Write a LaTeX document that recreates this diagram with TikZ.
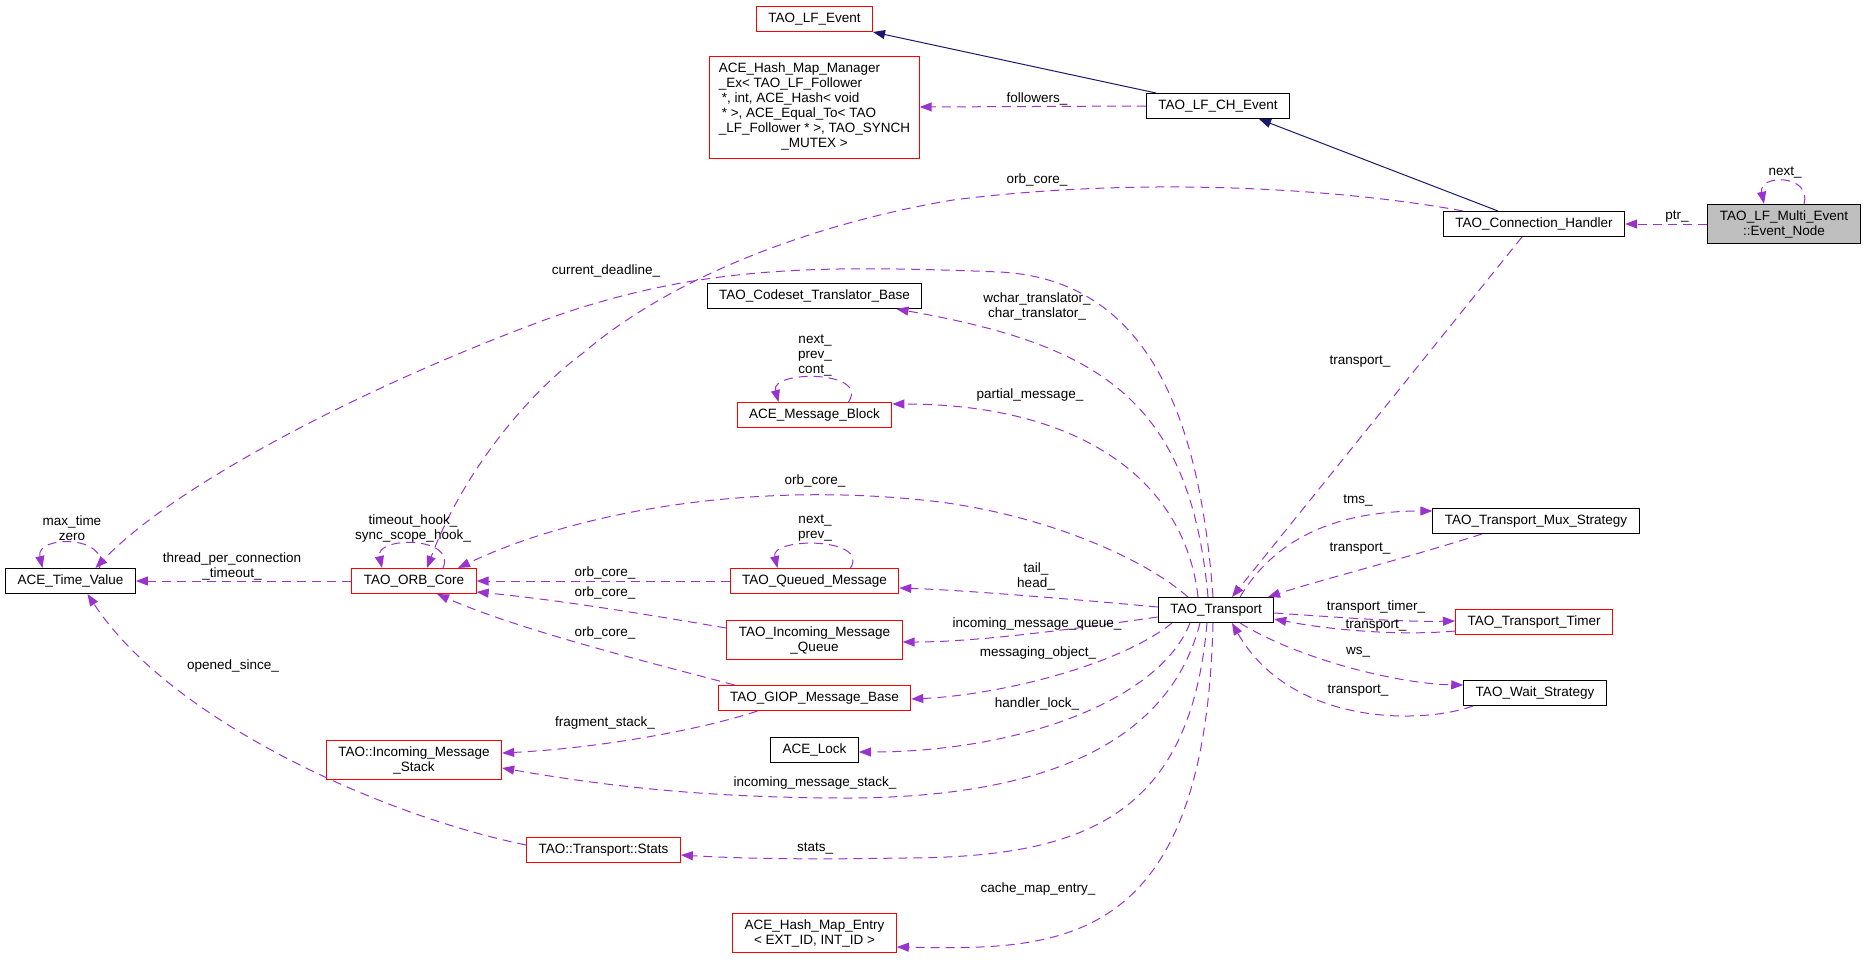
\documentclass[tikz,border=0pt]{standalone}
\usepackage{fontspec}
\setmainfont{Liberation Sans}
\usepackage{tikz}
\usetikzlibrary{shapes,arrows.meta}
\definecolor{edgepurple}{HTML}{9A32CD}
\definecolor{inhblue}{HTML}{191970}
\newcommand{\dotfont}{\fontsize{13.5}{15}\selectfont}
\tikzstyle{cls} = [draw=black, rectangle, line width=1pt, inner xsep=12pt, inner ysep=6pt, minimum height=25pt, align=center, font=\dotfont]
\tikzstyle{trunc} = [cls, draw=red]
\tikzstyle{self} = [cls, fill=black!25]
\tikzstyle{lbl} = [inner sep=0pt, align=center, font=\dotfont]
\tikzstyle{uses} = [->, draw=edgepurple, line width=1pt, dash pattern=on 9pt off 6pt]
\tikzstyle{inherit} = [->, draw=inhblue, line width=1pt]

\begin{document}
\begin{tikzpicture}[x=1pt, y=-1pt, >={Triangle[length=12pt,width=9pt]}]
	\useasboundingbox (0,0) rectangle (1863,959);
	% classes
	\node[trunc] (lfEvent) at (814.5,19) {TAO\_LF\_Event};
	\node[trunc, inner xsep=9pt] (hashManager) at (814.5,107) {\begin{tabular}{@{}l@{}}ACE\_Hash\_Map\_Manager\\\_Ex< TAO\_LF\_Follower\\\hspace{3pt}*, int, ACE\_Hash< void\\\hspace{3pt}* >, ACE\_Equal\_To< TAO\\\_LF\_Follower * >, TAO\_SYNCH\\\multicolumn{1}{@{}c@{}}{\_MUTEX >}\end{tabular}};
	\node[cls] (lfChEvent) at (1218,106) {TAO\_LF\_CH\_Event};
	\node[cls] (connHandler) at (1534,224) {TAO\_Connection\_Handler};
	\node[self] (eventNode) at (1784,224) {TAO\_LF\_Multi\_Event\\::Event\_Node};
	\node[cls] (codeset) at (814.5,296) {TAO\_Codeset\_Translator\_Base};
	\node[trunc] (msgBlock) at (814.5,415) {ACE\_Message\_Block};
	\node[cls] (timeValue) at (70.5,581) {ACE\_Time\_Value};
	\node[trunc] (orbCore) at (414,581) {TAO\_ORB\_Core};
	\node[trunc] (queuedMsg) at (814.5,581) {TAO\_Queued\_Message};
	\node[trunc] (msgQueue) at (814.5,640) {TAO\_Incoming\_Message\\\_Queue};
	\node[trunc] (giopBase) at (814.5,698) {TAO\_GIOP\_Message\_Base};
	\node[cls] (aceLock) at (814.5,750) {ACE\_Lock};
	\node[trunc] (msgStack) at (414,760) {TAO::Incoming\_Message\\\_Stack};
	\node[trunc] (stats) at (603.5,850) {TAO::Transport::Stats};
	\node[trunc] (hashEntry) at (814.5,933) {ACE\_Hash\_Map\_Entry\\< EXT\_ID, INT\_ID >};
	\node[cls] (transport) at (1216,610) {TAO\_Transport};
	\node[cls] (muxStrategy) at (1536,521) {TAO\_Transport\_Mux\_Strategy};
	\node[trunc] (transportTimer) at (1534,622) {TAO\_Transport\_Timer};
	\node[cls] (waitStrategy) at (1535,693) {TAO\_Wait\_Strategy};

	% inheritance
	\path[inherit] ([xshift=-62pt]lfChEvent.north) -- (lfEvent.south east);
	\path[inherit] ([xshift=-36pt]connHandler.north) -- ([xshift=41pt]lfChEvent.south);

	% members, top part
	\path[uses] (lfChEvent.west) -- (hashManager.east);
	\path[uses] (eventNode.west) -- (connHandler.east);
	\path[uses] ([xshift=20pt]eventNode.north) .. controls (1812,174) and (1758,174) .. ([xshift=-20pt]eventNode.north);
	\path[uses] ([xshift=-71pt]connHandler.north) .. controls (1350,190) and (1150,175) .. (953,200) .. controls (850,217) and (690,262) .. (583,353) .. controls (520,400) and (460,480) .. ([xshift=13pt]orbCore.north);
	\path[uses] ([xshift=-12pt]connHandler.south) -- ([xshift=16pt]transport.north);

	% members of TAO_Transport
	\path[uses] ([xshift=24pt]transport.north) .. controls (1280,530) and (1350,511) .. ([yshift=10pt]muxStrategy.west);
	\path[uses] ([xshift=-54pt]muxStrategy.south) .. controls (1400,560) and (1320,580) .. ([xshift=52pt]transport.north);
	\path[uses] ([yshift=-3pt]transport.east) .. controls (1350,618) and (1400,622) .. ([yshift=1pt]transportTimer.west);
	\path[uses] ([yshift=-9pt]transportTimer.west) .. controls (1400,636) and (1330,630) .. ([yshift=-9pt]transport.east);
	\path[uses] ([xshift=24pt]transport.south) .. controls (1300,660) and (1400,684) .. ([yshift=8pt]waitStrategy.west);
	\path[uses] ([xshift=-62pt]waitStrategy.south) .. controls (1420,725) and (1290,725) .. ([xshift=16pt]transport.south);
	\path[uses] ([xshift=-3pt]transport.north) .. controls (1200,420) and (1150,280) .. (1000,272) .. controls (820,265) and (700,265) .. (550,318) .. controls (380,380) and (180,480) .. ([xshift=25pt]timeValue.north);
	\path[uses] ([xshift=-8pt]transport.north) .. controls (1190,400) and (1100,345) .. ([xshift=82pt]codeset.south);
	\path[uses] ([xshift=-18pt]transport.north) .. controls (1185,480) and (1080,404) .. ([yshift=11pt]msgBlock.east);
	\path[uses] ([xshift=-28pt]transport.north) .. controls (1140,555) and (1040,515) .. (940,502) .. controls (760,480) and (580,510) .. ([xshift=44pt]orbCore.north);
	\path[uses] ([yshift=3pt]transport.west) .. controls (1060,598) and (960,590) .. ([yshift=-7pt]queuedMsg.east);
	\path[uses] ([yshift=-7pt]transport.west) .. controls (1080,628) and (980,642) .. ([yshift=-2pt]msgQueue.east);
	\path[uses] ([xshift=-44pt]transport.south) .. controls (1120,665) and (1000,695) .. ([yshift=-1pt]giopBase.east);
	\path[uses] ([xshift=-26pt]transport.south) .. controls (1160,700) and (1020,752) .. ([yshift=-2pt]aceLock.east);
	\path[uses] ([xshift=-16pt]transport.south) .. controls (1170,740) and (1050,797) .. (850,798) .. controls (700,798) and (600,785) .. ([yshift=-8pt]msgStack.east);
	\path[uses] ([xshift=-9pt]transport.south) .. controls (1190,820) and (1080,858) .. (900,858) .. controls (800,860) and (730,858) .. ([yshift=-5pt]stats.east);
	\path[uses] ([xshift=-3pt]transport.south) .. controls (1205,950) and (1060,950) .. ([yshift=-14pt]hashEntry.east);

	% members, left part
	\path[uses] (queuedMsg.west) -- (orbCore.east);
	\path[uses] ([yshift=12pt]msgQueue.west) .. controls (650,615) and (560,600) .. ([yshift=-11pt]orbCore.east);
	\path[uses] ([xshift=-80pt]giopBase.north) .. controls (640,660) and (520,630) .. ([xshift=23pt]orbCore.south);
	\path[uses] ([xshift=-57pt]giopBase.south) .. controls (700,730) and (600,748) .. ([yshift=7pt]msgStack.east);
	\path[uses] (orbCore.west) -- (timeValue.east);
	\path[uses] ([yshift=5pt]stats.west) .. controls (380,815) and (170,720) .. ([xshift=17pt]timeValue.south);

	% self loops
	\path[uses] ([xshift=29pt]timeValue.north) .. controls (110,535) and (35,535) .. ([xshift=-28pt]timeValue.north);
	\path[uses] ([xshift=29pt]orbCore.north) .. controls (457,536) and (375,536) .. ([xshift=-32pt]orbCore.north);
	\path[uses] ([xshift=34pt]msgBlock.north) .. controls (870,370) and (770,370) .. ([xshift=-36pt]msgBlock.north);
	\path[uses] ([xshift=36pt]queuedMsg.north) .. controls (870,537) and (770,537) .. ([xshift=-37pt]queuedMsg.north);

	% edge labels
	\node[lbl] (lblFollowers) at (1037,99) {followers\_};
	\node[lbl] (lblNext) at (1785,172) {next\_};
	\node[lbl] (lblPtr) at (1677,217) {ptr\_};
	\node[lbl] (lblChOrb) at (1037,180) {orb\_core\_};
	\node[lbl] (lblChTransport) at (1360,362) {transport\_};
	\node[lbl] (lblDeadline) at (606,271) {current\_deadline\_};
	\node[lbl] (lblTranslator) at (1037,306) {wchar\_translator\_\\char\_translator\_};
	\node[lbl] (lblBlockLoop) at (815,355) {next\_\\prev\_\\cont\_};
	\node[lbl] (lblPartial) at (1030,395) {partial\_message\_};
	\node[lbl] (lblTransOrb) at (815,481) {orb\_core\_};
	\node[lbl] (lblQueuedLoop) at (815,528) {next\_\\prev\_};
	\node[lbl] (lblHooks) at (413,528) {timeout\_hook\_\\sync\_scope\_hook\_};
	\node[lbl] (lblTimeLoop) at (72,528) {max\_time\\zero};
	\node[lbl] (lblThread) at (232,566) {thread\_per\_connection\\\_timeout\_};
	\node[lbl] (lblOrbA) at (605,573) {orb\_core\_};
	\node[lbl] (lblOrbB) at (605,593) {orb\_core\_};
	\node[lbl] (lblOrbC) at (605,633) {orb\_core\_};
	\node[lbl] (lblTailHead) at (1036,576) {tail\_\\head\_};
	\node[lbl] (lblQueue) at (1037,624) {incoming\_message\_queue\_};
	\node[lbl] (lblMessaging) at (1038,653) {messaging\_object\_};
	\node[lbl] (lblLock) at (1037,704) {handler\_lock\_};
	\node[lbl] (lblFragment) at (605,723) {fragment\_stack\_};
	\node[lbl] (lblStack) at (815,783) {incoming\_message\_stack\_};
	\node[lbl] (lblStats) at (815,848) {stats\_};
	\node[lbl] (lblCache) at (1038,889) {cache\_map\_entry\_};
	\node[lbl] (lblOpened) at (233,666) {opened\_since\_};
	\node[lbl] (lblTms) at (1358,500) {tms\_};
	\node[lbl] (lblMuxTransport) at (1360,549) {transport\_};
	\node[lbl] (lblTimer) at (1376,607) {transport\_timer\_};
	\node[lbl] (lblTimerTransport) at (1376,626) {transport\_};
	\node[lbl] (lblWs) at (1358,652) {ws\_};
	\node[lbl] (lblWaitTransport) at (1358,691) {transport\_};
\end{tikzpicture}
\end{document}
